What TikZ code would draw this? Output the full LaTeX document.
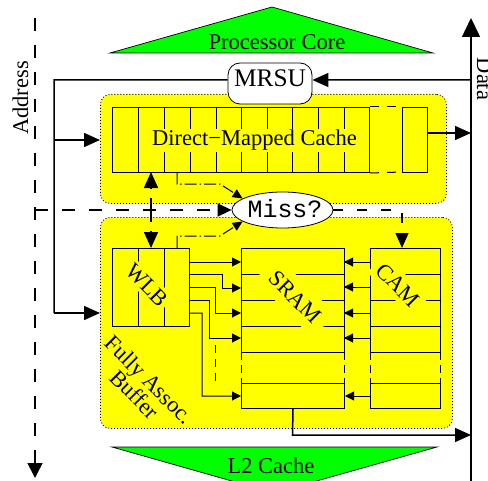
\documentclass[tikz,border=0pt]{standalone}
\usepackage{fontspec}
\setmainfont{Liberation Serif}
\newfontfamily\courierfont{Liberation Mono}
\usetikzlibrary{arrows.meta,shapes.geometric}
\definecolor{ylw}{RGB}{255,255,0}
\definecolor{grn}{RGB}{0,255,0}
\begin{document}
\begin{tikzpicture}[x=1bp,y=-1bp,
 every node/.style={font=\fontsize{22.6}{21}\selectfont, inner sep=0pt},
 bus/.style={line width=1.5bp},
 big/.style={line width=1.5bp,-{Triangle[length=16bp,width=14bp]}},
 small/.style={line width=1bp,-{Triangle[length=9bp,width=9bp]}},
 cell/.style={line width=1bp},
 cellbox/.style={draw, line width=1bp, anchor=north west, inner sep=0pt},
 ybox/.style={fill=ylw, draw=black, line width=0.8bp, dash pattern=on 1bp off 2bp, rounded corners=10bp, inner sep=0pt, anchor=north west},
 tri/.style={fill=grn, draw=black, line width=0.7bp},
 slab/.style={fill=ylw, rotate=-45},
 addr/.style={line width=1.5bp, dash pattern=on 13bp off 14bp},
 ddot/.style={line width=1bp, dash pattern=on 12bp off 3bp on 1.5bp off 3bp, -{Triangle[length=10bp,width=9bp]}}
]
\useasboundingbox (0,0) rectangle (488,481);
\clip (0,0) rectangle (488,481);

% green triangles
\draw[tri] (110,53) -- (272,7) -- (433,53) -- cycle;
\node[anchor=base] (pc) at (277,50) {Processor Core};
\draw[tri] (112,447) -- (437,447) -- (274,493) -- cycle;
\node[anchor=base] (l2) at (271,473) {L2 Cache};

% yellow containers
\node[ybox, minimum width=346bp, minimum height=109bp] (topbox) at (100,94) {};
\node[ybox, minimum width=352bp, minimum height=211bp] (botbox) at (100,217) {};

% direct-mapped cache array
\node[cellbox, minimum width=257bp, minimum height=65bp] (dm) at (112,107) {};
\foreach \x in {138,164,190,216,241,267,292,318,344}
  \draw[cell] (\x,107) -- (\x,172);
\draw[cell, dash pattern=on 9bp off 8bp] (dm.north east) -- (402,107);
\draw[cell, dash pattern=on 9bp off 8bp] (dm.south east) -- (402,172);
\node[cellbox, minimum width=25bp, minimum height=65bp] (dmlast) at (402,107) {};
\node[fill=ylw, inner sep=1.5bp, anchor=base] (dmtext) at (254.5,146) {Direct{\char"2212}Mapped Cache};

% WLB
\node[cellbox, minimum width=77bp, minimum height=78bp] (wlb) at (112,248) {};
\draw[cell] (138,248) -- (138,326);
\draw[cell] (164,248) -- (164,326);
\node[slab, inner sep=3bp] (wlbtext) at (147,285) {WLB};

% SRAM
\foreach \y in {248,274,300,326,352} \draw[cell] (241,\y) -- (344,\y);
\draw[cell] (241,248) -- (241,352);
\draw[cell] (344,248) -- (344,352);
\draw[cell, dash pattern=on 8bp off 5bp] (241,352) -- (241,383);
\draw[cell, dash pattern=on 8bp off 5bp] (344,352) -- (344,383);
\node[cellbox, minimum width=103bp, minimum height=25bp] (sramlast) at (241,383) {};
\node[slab, inner sep=9bp] (sramtext) at (295,297) {SRAM};

% CAM
\foreach \y in {248,274,300,326,352} \draw[cell] (370,\y) -- (440,\y);
\draw[cell] (370,248) -- (370,352);
\draw[cell] (440,248) -- (440,352);
\draw[cell, dash pattern=on 8bp off 5bp] (370,352) -- (370,383);
\draw[cell, dash pattern=on 8bp off 5bp] (440,352) -- (440,383);
\node[cellbox, minimum width=70bp, minimum height=25bp] (camlast) at (370,383) {};
\node[slab, inner sep=5bp] (camtext) at (398,285) {CAM};
\coordinate (camtop) at (402,248);

% Fully Assoc. Buffer label
\node[rotate=-45, align=center] (fab) at (142,387) {Fully Assoc.\\Buffer};

% WLB -> SRAM arrows
\draw[small] (189,262) -- (241,262);
\draw[small] (189,274) -- (222,274) -- (222,288) -- (241,288);
\draw[small] (189,287) -- (215,287) -- (215,313) -- (241,313);
\draw[small] (189,300) -- (209,300) -- (209,338) -- (241,338);
\draw[small] (189,313) -- (202,313) -- (202,396) -- (sramlast.west);
\draw[cell, dash pattern=on 8bp off 6bp] (215,345) -- (215,387);

% CAM -> SRAM arrows
\foreach \y in {262,287,313,338}
  \draw[small] (370,\y) -- (344,\y);
\draw[small] (camlast.west) -- (sramlast.east);

% MRSU
\node[draw, fill=white, line width=0.8bp, rounded corners=12bp, minimum width=84bp, minimum height=41bp,
      font=\fontsize{25.4}{25}\selectfont, text height=17.3bp, text depth=11.3bp] (mrsu) at (270,83.5) {MRSU};

% Miss?
\node[ellipse, draw, fill=white, line width=0.8bp, minimum width=101bp, minimum height=36bp] (miss) at (282.5,210) {};
\node[font=\courierfont\fontsize{25}{25}\selectfont, anchor=base] (misstext) at (285,217) {Miss?};

% address and data
\node[rotate=90, anchor=base] (addrlbl) at (28,98) {Address};
\node[rotate=-90, anchor=base] (datalbl) at (477,79) {Data};
\coordinate (atop) at (35,18);
\coordinate (abot) at (35,478);
\coordinate (acorner) at (35,210);
\draw[addr, -{Triangle[length=15bp,width=15bp]}] (atop) -- (abot);
\draw[addr, -{Triangle[length=14bp,width=13bp]}] (acorner) -- (miss.west);
\draw[line width=1.5bp, dash pattern=on 10bp off 14bp, -{Triangle[length=15bp,width=13bp]}] (miss.east) -- (402,210) -- (camtop);

\coordinate (dbot) at (471,481);
\coordinate (dtop) at (471,18);
\draw[line width=1.5bp, -{Triangle[length=19bp,width=18bp]}] (dbot) -- (dtop);
\draw[big] (471,80) -- ([yshift=3.5bp]mrsu.east);
\draw[bus] ([yshift=3.5bp]mrsu.west) -- (54,80) -- (54,313);
\draw[big] (54,313) -- (botbox.west |- 0,313);
\draw[big] (54,140) -- (topbox.west |- 0,140);
\draw[big] (dmlast.east |- 0,133) -- (471,133);
\draw[big] (sramlast.south) -- (292.5,435) -- (471,435);

% vertical double arrow between cache and WLB
\draw[bus] (151,198) -- (151,222);
\draw[big] (151,189) -- (151,172);
\draw[big] (151,231) -- (151,248);

% dash-dot miss signals
\draw[ddot] (177,172) -- (177,184) -- (220,184) -- (miss.164);
\draw[ddot] (177,248) -- (177,236) -- (220,236) -- (miss.196);
\end{tikzpicture}
\end{document}
